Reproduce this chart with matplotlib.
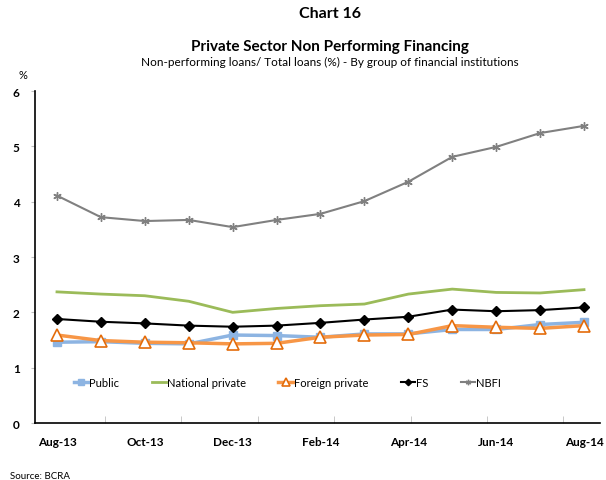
import numpy as np
import matplotlib
matplotlib.use("Agg")
import matplotlib.pyplot as plt

plt.rcParams['font.family'] = ['Lato', 'DejaVu Sans']

months = ['Aug-13', 'Sep-13', 'Oct-13', 'Nov-13', 'Dec-13', 'Jan-14', 'Feb-14',
          'Mar-14', 'Apr-14', 'May-14', 'Jun-14', 'Jul-14', 'Aug-14']
public = [1.46, 1.47, 1.44, 1.43, 1.59, 1.58, 1.55, 1.61, 1.61, 1.69, 1.69, 1.78, 1.82]
national_private = [2.37, 2.33, 2.30, 2.20, 2.00, 2.07, 2.12, 2.15, 2.33, 2.42, 2.36, 2.35, 2.41]
foreign_private = [1.59, 1.49, 1.46, 1.45, 1.43, 1.44, 1.55, 1.59, 1.60, 1.76, 1.73, 1.71, 1.76]
fs = [1.88, 1.83, 1.80, 1.76, 1.74, 1.76, 1.81, 1.87, 1.92, 2.05, 2.02, 2.04, 2.09]
nbfi = [4.11, 3.72, 3.65, 3.67, 3.54, 3.67, 3.78, 4.01, 4.36, 4.81, 4.99, 5.24, 5.37]

x = np.arange(len(months))

fig = plt.figure(figsize=(6.06, 4.81), dpi=100)
ax = fig.add_axes([0.0578, 0.1185, 0.932, 0.6902])

ax.plot(x, public, color='#8DB4E2', lw=2.5, marker='s', ms=6,
        mfc='#8DB4E2', mec='#8DB4E2', label='Public')
ax.plot(x, national_private, color='#9BBB59', lw=2, label='National private')
ax.plot(x, foreign_private, color='#F79646', lw=2.5, marker='^', ms=8,
        mfc='white', mec='#E46C0A', mew=1.2, label='Foreign private')
ax.plot(x, fs, color='black', lw=1.5, marker='D', ms=5, label='FS')
ax.plot(x, nbfi, color='#808080', lw=1.5, marker=(6, 2, 0), ms=6,
        mec='#808080', label='NBFI')

ax.set_xlim(-0.5, 12.36)
ax.set_ylim(0, 6)
for s in ['top', 'right']:
    ax.spines[s].set_visible(False)
ax.spines['left'].set_linewidth(1.2)
ax.spines['bottom'].set_linewidth(1.2)

ax.set_xticks(x[::2])
ax.set_xticklabels(months[::2], fontweight='bold', fontsize=8.5)
ax.tick_params(axis='x', which='major', length=0, pad=9)
ax.set_xticks(np.arange(1.09, 12, 1.74), minor=True)
ax.tick_params(axis='x', which='minor', direction='in', length=5, color='#BFBFBF')

ax.set_yticks(range(7))
ax.set_yticklabels([str(i) for i in range(7)], fontweight='bold', fontsize=8.5)
ax.tick_params(axis='y', direction='out', length=3, color='#BFBFBF', pad=8)

ax.legend(loc='center', bbox_to_anchor=(0.447, 0.123), ncol=5, frameon=False,
          fontsize=8, handlelength=1.3, handletextpad=0.1, columnspacing=2.9,
          markerscale=0.65)

fig.text(0.545, 0.962, 'Chart 16', ha='center', fontsize=11.5, fontweight='bold')
fig.text(0.545, 0.895, 'Private Sector Non Performing Financing', ha='center',
         fontsize=11, fontweight='bold')
fig.text(0.545, 0.862, 'Non-performing loans/ Total loans (%) - By group of financial institutions',
         ha='center', fontsize=8.5)
fig.text(0.03, 0.835, '%', ha='left', fontsize=8)
fig.text(0.017, 0.005, 'Source: BCRA', ha='left', fontsize=7)

fig.savefig('out.png', dpi=100)
